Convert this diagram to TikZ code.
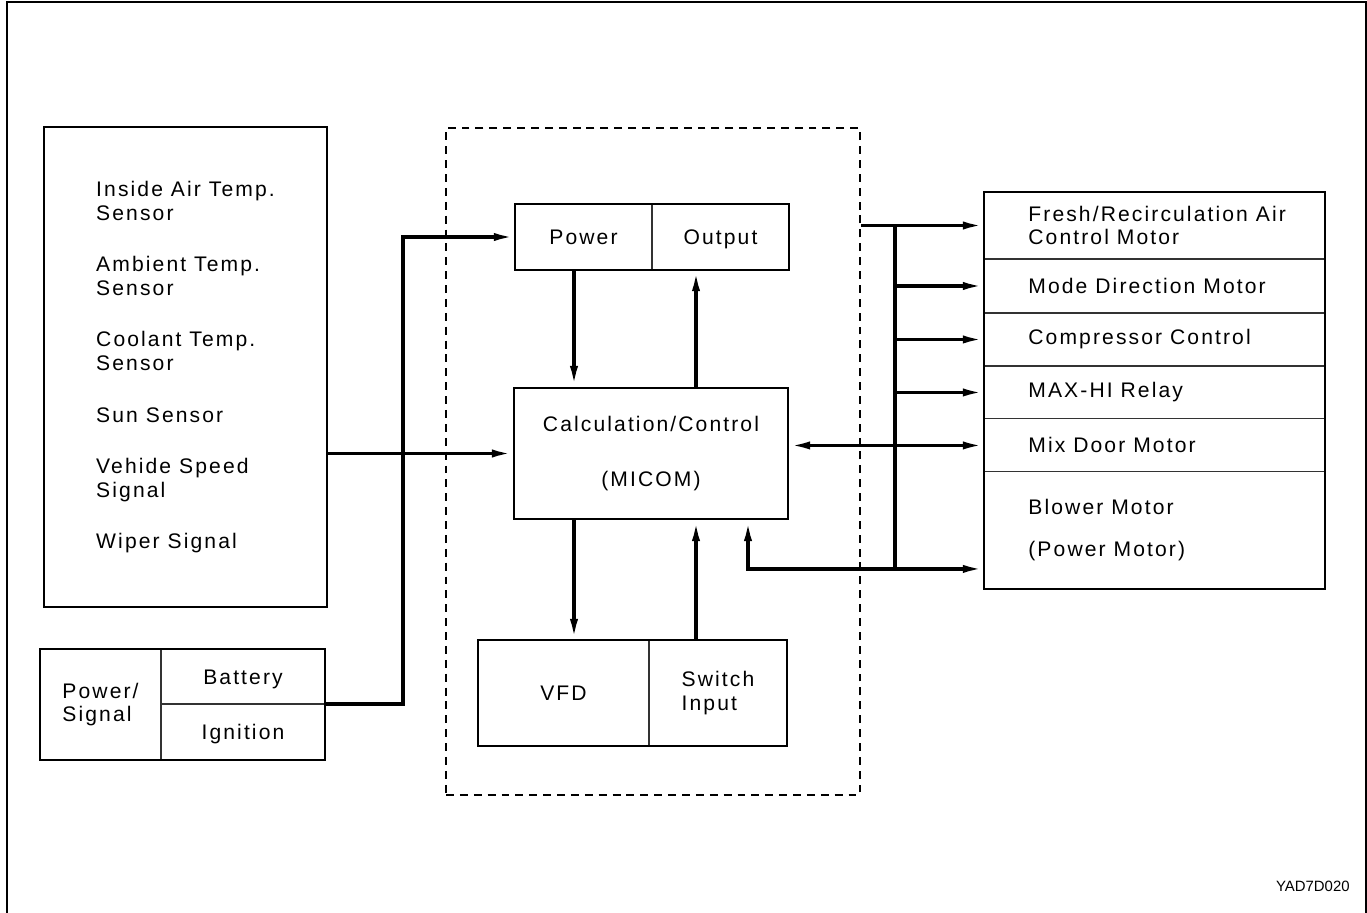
\documentclass[tikz,border=0pt]{standalone}
\usepackage{fontspec}
\setmainfont{Liberation Sans}[LetterSpace=10]
\newfontfamily\tagfont{Liberation Sans}
\usetikzlibrary{arrows.meta,positioning}
\tikzset{
  frm/.style    ={line width=1.1pt},
  blk/.style    ={draw, line width=1.1pt, inner sep=0pt, align=center,
                  font=\fontsize{12}{13.6}\selectfont},
  cellbx/.style ={draw=black!80, line width=0.6pt, inner sep=0pt, outer sep=0pt,
                  align=left, font=\fontsize{12}{13.6}\selectfont},
  oneline/.style={text height=8.6pt, text depth=0pt},
  rtxt/.style   ={inner sep=0pt, align=left,
                  font=\fontsize{12}{13.6}\selectfont},
  ecubox/.style ={draw, line width=1.1pt, dash pattern=on 4.5pt off 3.4pt},
  sig/.style    ={-{Latex[length=12pt,width=4.6pt]}, line width=1.9pt},
  sig2/.style   ={{Latex[length=12pt,width=4.6pt]}-{Latex[length=12pt,width=4.6pt]},
                  line width=1.9pt},
  wire/.style   ={line width=1.9pt},
}
\begin{document}
\begin{tikzpicture}[x=0.02cm, y=-0.02cm]
  \useasboundingbox (0,0) rectangle (1367,913);
  \draw[frm] (7,913) -- (7,2) -- (1366,2) -- (1366,913);
  % ---- left: inputs
  \node[blk, align=left, minimum width=5.66cm, minimum height=9.6cm] (sensors) at (185.5,367)
    {Inside Air Temp.\\Sensor\\[15.6pt]
     Ambient Temp.\\Sensor\\[15.6pt]
     Coolant Temp.\\Sensor\\[15.6pt]
     Sun Sensor\\[15.6pt]
     Vehide Speed\\Signal\\[15.6pt]
     Wiper Signal};
  \node[cellbx, minimum width=2.42cm, minimum height=2.22cm] (psig) at (100.5,704.5) {Power/\\Signal};
  \node[cellbx, oneline, align=center, minimum width=3.28cm, minimum height=1.1cm,
        anchor=north west] (batt) at (psig.north east) {Battery};
  \node[cellbx, oneline, align=center, minimum width=3.28cm, minimum height=1.12cm,
        below=0pt of batt] (ign) {Ignition};
  \draw[frm] (psig.north west) rectangle (ign.south east);
  % ---- middle: control unit
  \node[ecubox, minimum width=8.28cm, minimum height=13.34cm] (ecu) at (653,461.5) {};
  \node[cellbx, oneline, align=center, minimum width=2.74cm, minimum height=1.32cm] (pwr) at (583.5,237) {Power};
  \node[cellbx, oneline, align=center, minimum width=2.74cm, minimum height=1.32cm,
        right=0pt of pwr] (outp) {Output};
  \draw[frm] (pwr.north west) rectangle (outp.south east);
  \node[blk, minimum width=5.48cm, minimum height=2.62cm] (calc) at (651,453.5)
    {Calculation/Control\\[17.6pt](MICOM)};
  \node[cellbx, oneline, align=center, minimum width=3.42cm, minimum height=2.12cm] (vfd) at (563.5,693) {VFD};
  \node[cellbx, minimum width=2.76cm, minimum height=2.12cm,
        right=0pt of vfd] (swin) {Switch\\Input};
  \draw[frm] (vfd.north west) rectangle (swin.south east);
  % ---- right: outputs
  \node[cellbx, minimum width=6.82cm, minimum height=1.34cm] (fresh) at (1154.5,225.5) {};
  \node[cellbx, minimum width=6.82cm, minimum height=1.08cm, below=0pt of fresh] (mode) {};
  \node[cellbx, minimum width=6.82cm, minimum height=1.06cm, below=0pt of mode] (comp) {};
  \node[cellbx, minimum width=6.82cm, minimum height=1.06cm, below=0pt of comp] (maxhi) {};
  \node[cellbx, minimum width=6.82cm, minimum height=1.06cm, below=0pt of maxhi] (mix) {};
  \node[cellbx, minimum width=6.82cm, minimum height=2.34cm, below=0pt of mix] (blower) {};
  \draw[frm] (fresh.north west) rectangle (blower.south east);
  \node[rtxt, right=0.88cm of fresh.west]  (tfresh)  {Fresh/Recirculation Air\\Control Motor};
  \node[rtxt, right=0.88cm of mode.west]   (tmode)   {Mode Direction Motor};
  \node[rtxt, right=0.88cm of comp.west]   (tcomp)   {Compressor Control};
  \node[rtxt, right=0.88cm of maxhi.west]  (tmaxhi)  {MAX-HI Relay};
  \node[rtxt, right=0.88cm of mix.west]    (tmix)    {Mix Door Motor};
  \node[rtxt, right=0.88cm of blower.west] (tblower) {Blower Motor\\[10.2pt](Power Motor)};
  \node[anchor=east, inner sep=0pt, font=\tagfont\fontsize{8.5}{10}\selectfont] (code) at (1350,886) {YAD7D020};
  % ---- connectors
  \coordinate (colL) at (574,0);
  \coordinate (colR) at (696,0);
  \coordinate (colB) at (748,0);
  \coordinate (bus)  at (895,0);
  \coordinate (bin)  at ([yshift=-0.77cm]blower.west);
  \draw[sig] (sensors.east |- calc.west) -- (calc.west);
  \draw[sig] (ign.north east) -- ++(78,0) |- (pwr.west);
  \draw[sig] (pwr.south -| colL) -- (calc.north -| colL);
  \draw[sig] (calc.north -| colR) -- (outp.south -| colR);
  \draw[sig] (calc.south -| colL) -- (vfd.north -| colL);
  \draw[sig] (swin.north -| colR) -- (calc.south -| colR);
  \draw[sig] (fresh.west -| ecu.east) -- (fresh.west);
  \draw[wire] (fresh.west -| bus) -- (bus |- bin);
  \foreach \n in {mode,comp,maxhi}
    \draw[sig] (\n.west -| bus) -- (\n.west);
  \draw[sig2] (calc.east |- mix.west) -- (mix.west);
  \draw[sig2] (calc.south -| colB) |- (bin);
\end{tikzpicture}
\end{document}
